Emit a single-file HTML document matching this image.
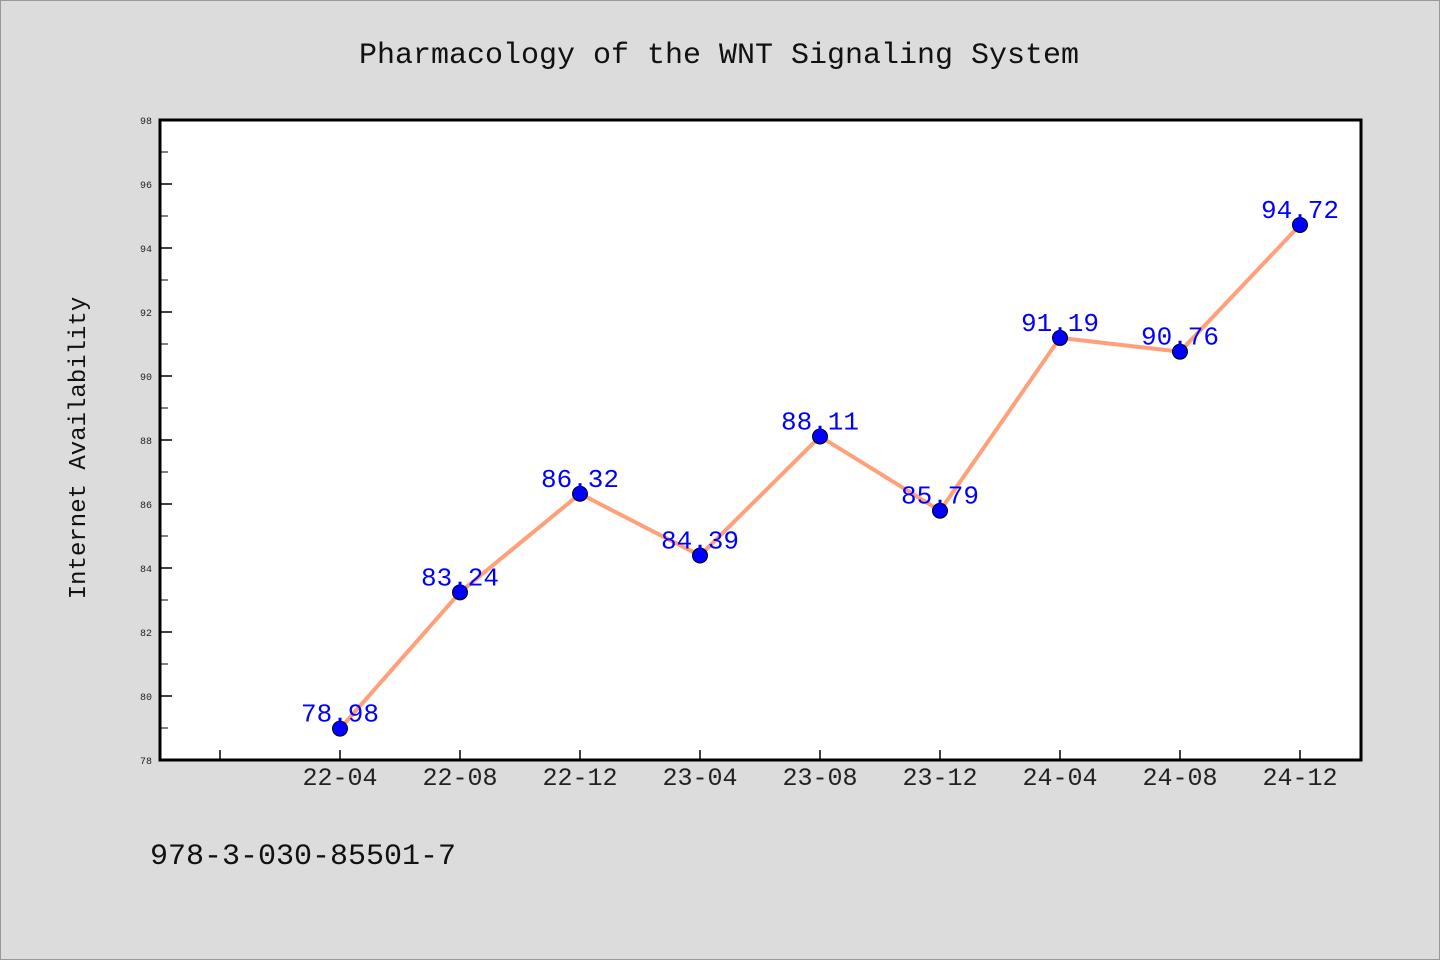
<!DOCTYPE html>
<html><head><meta charset="utf-8"><style>
body{margin:0;background:#dcdcdc;}
svg{display:block;font-family:"Liberation Mono","WenQuanYi Zen Hei",monospace;}
</style></head><body>
<svg id="c" width="1440" height="960">
<rect x="0.5" y="0.5" width="1439" height="959" fill="#dcdcdc" stroke="#999"/>
<text x="719" y="63" font-size="30" text-anchor="middle" fill="#111">Pharmacology of the WNT Signaling System</text>
<rect x="160" y="120" width="1201" height="640" fill="#fff"/>
<g id="ax"></g>
<rect x="160" y="120" width="1201" height="640" fill="none" stroke="#000" stroke-width="3"/>
<text transform="translate(85,448) rotate(-90)" font-size="24" text-anchor="middle" fill="#111">Internet Availability</text>
<text x="150" y="864" font-size="30" fill="#111">978-3-030-85501-7</text>
</svg>
<script>
const categories=["22-04","22-08","22-12","23-04","23-08","23-12","24-04","24-08","24-12"];
const values=[78.98,83.24,86.32,84.39,88.11,85.79,91.19,90.76,94.72];
const yTicks=[78,80,82,84,86,88,90,92,94,96,98];
const NS="http://www.w3.org/2000/svg";
const g=document.getElementById('ax');
const yMin=78,yMax=98,yTop=120,yBot=760;
function y(v){return yBot-(v-yMin)/(yMax-yMin)*(yBot-yTop);}
function x(i){return 340+i*120;}
function mk(t,a){const e=document.createElementNS(NS,t);for(const k in a)e.setAttribute(k,a[k]);g.appendChild(e);return e;}
yTicks.forEach((t,i)=>{
 const l=mk('line',{x1:160,x2:172,y1:y(t),y2:y(t),stroke:'#000','stroke-width':1.5});
 
 
 const tx=mk('text',{x:152,y:y(t)+4,'font-size':10,'text-anchor':'end',fill:'#222'});
 tx.textContent=t;
 
 
 if(i<yTicks.length-1){const m=mk('line',{x1:160,x2:168,y1:y(t+1),y2:y(t+1),stroke:'#000','stroke-width':1});
 
 }
});
const t0=mk('line',{x1:x(-1),x2:x(-1),y1:760,y2:750,stroke:'#000','stroke-width':1.5});


categories.forEach((c,i)=>{
 const l=mk('line',{x1:x(i),x2:x(i),y1:760,y2:750,stroke:'#000','stroke-width':1.5});
 
 
 const tx=mk('text',{x:x(i),y:785,'font-size':25,'text-anchor':'middle',fill:'#222'});
 tx.textContent=c;
 
 
});
const pl=mk('polyline',{points:values.map((v,i)=>x(i)+','+y(v)).join(' '),fill:'none',stroke:'#ffa07a','stroke-width':4});


values.forEach((v,i)=>{
 const c=mk('circle',{cx:x(i),cy:y(v),r:7.5,fill:'#0000ff',stroke:'#000','stroke-width':1});
 
 
 const tx=mk('text',{x:x(i),y:y(v)-7,'font-size':26,'text-anchor':'middle',fill:'#0000ff'});
 tx.textContent=v.toFixed(2);
 
 
});
</script>
</body></html>
